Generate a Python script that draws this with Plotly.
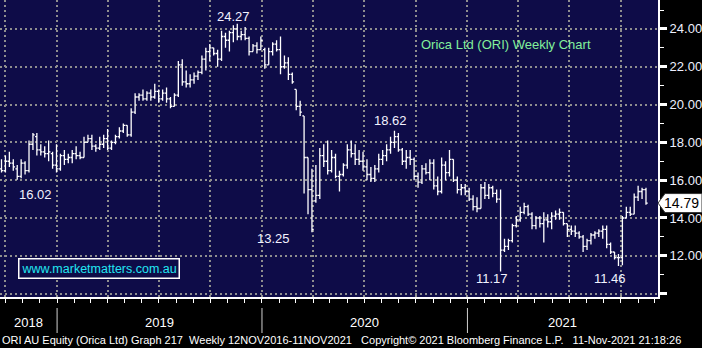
import pandas as pd
import plotly.graph_objects as go

# ---------------- data (weekly OHLC) ----------------
open_ = [16.6, 16.5, 17.0, 16.9, 16.6, 16.2, 16.9, 16.5, 17.9, 18.3,
         17.6, 17.5, 17.4, 17.4, 16.8, 16.6, 17.3, 17.1, 17.2, 17.4,
         17.3, 17.2, 18.0, 18.2, 17.8, 17.7, 17.9, 18.2, 17.7, 18.0,
         18.3, 18.6, 18.9, 18.4, 19.6, 20.4, 20.5, 20.3, 20.6, 20.4,
         20.7, 20.3, 20.6, 20.3, 19.9, 20.5, 22.1, 21.2, 21.1, 21.3,
         21.5, 21.7, 22.4, 22.8, 23.0, 22.7, 22.4, 23.6, 23.4, 23.8,
         24.0, 23.6, 23.7, 23.5, 22.8, 23.1, 22.9, 22.9, 22.1, 22.8,
         23.2, 22.9, 22.0, 22.2, 21.6, 20.8, 19.9, 19.4, 17.2, 15.5,
         14.9, 15.2, 17.3, 17.0, 16.5, 17.2, 16.2, 16.3, 16.8, 17.6,
         17.4, 17.1, 17.0, 16.7, 16.3, 16.1, 16.6, 17.1, 17.3, 17.6,
         18.0, 18.3, 17.6, 17.0, 17.2, 17.1, 16.2, 15.9, 16.6, 16.4,
         16.9, 15.7, 15.4, 16.8, 16.4, 17.1, 16.0, 15.5, 15.6, 15.4,
         15.0, 14.6, 14.5, 15.6, 15.2, 15.6, 15.3, 15.0, 12.3, 12.5,
         12.8, 13.6, 13.9, 14.3, 14.6, 14.2, 13.6, 14.0, 13.7, 13.9,
         13.8, 14.1, 14.2, 14.3, 13.7, 13.4, 13.3, 13.2, 13.0, 12.5,
         12.8, 13.1, 13.2, 13.3, 13.4, 12.6, 12.2, 11.9, 11.9, 14.0,
         14.3, 14.2, 15.1, 15.4, 15.5]
high_ = [17.1, 17.3, 17.5, 17.1, 16.8, 17.1, 17.0, 18.1, 18.5, 18.5,
         17.9, 17.8, 18.1, 17.5, 17.9, 17.4, 17.6, 17.4, 17.6, 17.8,
         17.5, 18.3, 18.4, 18.4, 17.9, 18.3, 18.4, 18.7, 18.1, 18.4,
         18.8, 19.0, 18.9, 19.8, 20.6, 20.6, 20.8, 20.7, 20.8, 21.1,
         20.8, 20.8, 20.9, 20.4, 20.6, 22.3, 22.4, 21.8, 21.6, 21.7,
         21.8, 22.6, 23.0, 23.2, 23.0, 22.9, 23.9, 23.8, 23.9, 24.2,
         24.27, 23.9, 24.1, 23.6, 23.2, 23.3, 23.6, 23.0, 23.0, 23.3,
         23.4, 23.6, 22.6, 22.5, 21.7, 20.8, 20.2, 19.4, 17.2, 16.6,
         16.8, 17.7, 17.9, 18.1, 17.6, 17.4, 16.5, 16.9, 17.9, 18.1,
         17.9, 17.6, 17.5, 17.1, 16.7, 16.8, 17.4, 17.6, 17.9, 18.3,
         18.62, 18.5, 17.7, 17.6, 17.6, 17.2, 16.4, 16.8, 16.9, 17.1,
         17.1, 16.2, 17.2, 17.0, 17.6, 17.1, 16.2, 15.8, 15.8, 15.6,
         15.2, 15.1, 15.8, 15.9, 15.8, 15.7, 15.5, 15.5, 12.9, 12.9,
         13.7, 14.1, 14.6, 14.8, 14.7, 14.3, 14.1, 14.1, 14.3, 14.2,
         14.3, 14.4, 14.5, 14.3, 13.7, 13.6, 13.6, 13.3, 13.1, 12.9,
         13.2, 13.3, 13.4, 13.6, 13.6, 12.7, 12.2, 12.1, 14.1, 14.6,
         14.6, 15.3, 15.7, 15.6, 15.6]
low_ = [16.4, 16.4, 16.7, 16.5, 16.02, 16.1, 16.3, 16.4, 17.6, 17.3,
        17.3, 17.2, 17.0, 16.6, 16.4, 16.5, 16.8, 16.9, 16.9, 17.1,
        17.1, 17.2, 18.0, 17.6, 17.5, 17.6, 17.7, 17.6, 17.6, 17.9,
        18.2, 18.5, 18.3, 18.3, 19.5, 20.2, 20.2, 20.2, 20.2, 20.3,
        20.1, 20.2, 20.1, 19.8, 19.9, 20.4, 21.0, 20.9, 20.9, 21.1,
        21.3, 21.6, 21.8, 22.3, 22.6, 22.0, 22.3, 23.0, 22.8, 23.3,
        23.4, 23.4, 23.4, 22.6, 22.8, 22.7, 22.9, 21.9, 22.1, 22.6,
        22.8, 21.6, 21.9, 21.3, 21.1, 19.7, 19.4, 15.3, 14.2, 13.25,
        14.8, 15.0, 16.7, 16.3, 16.4, 16.1, 15.4, 16.2, 16.6, 17.2,
        16.8, 16.8, 16.5, 16.0, 15.9, 15.9, 16.4, 16.8, 17.0, 17.4,
        17.7, 17.5, 16.8, 16.6, 16.8, 16.0, 15.6, 15.8, 16.3, 16.0,
        15.5, 15.2, 15.3, 16.0, 16.2, 15.9, 15.3, 15.2, 15.2, 14.9,
        14.4, 14.3, 14.5, 15.0, 15.0, 15.1, 14.8, 11.17, 12.2, 12.3,
        12.7, 13.5, 13.8, 14.2, 14.1, 13.4, 13.4, 13.5, 12.7, 13.5,
        13.4, 13.9, 13.9, 13.6, 13.0, 13.1, 13.0, 12.9, 12.2, 12.3,
        12.6, 12.9, 13.0, 12.9, 12.4, 12.1, 11.8, 11.46, 11.5, 14.0,
        14.1, 14.2, 14.9, 15.0, 14.7]
close_ = [16.5, 17.0, 16.9, 16.7, 16.2, 16.9, 16.5, 17.9, 18.4, 17.6,
          17.5, 17.4, 17.5, 16.8, 16.6, 17.3, 17.1, 17.2, 17.4, 17.3,
          17.2, 18.0, 18.2, 17.8, 17.7, 17.9, 18.2, 17.7, 18.0, 18.3,
          18.6, 18.9, 18.4, 19.6, 20.4, 20.5, 20.3, 20.6, 20.4, 20.7,
          20.3, 20.6, 20.3, 19.9, 20.5, 22.1, 21.2, 21.1, 21.3, 21.5,
          21.7, 22.4, 22.8, 23.0, 22.7, 22.4, 23.6, 23.4, 23.8, 24.0,
          23.6, 23.7, 23.5, 22.8, 23.1, 22.9, 23.4, 22.1, 22.8, 23.2,
          22.9, 22.0, 22.2, 21.6, 21.2, 19.9, 19.6, 17.2, 15.5, 13.4,
          15.2, 17.3, 17.0, 16.5, 17.2, 16.2, 16.3, 16.8, 17.6, 17.4,
          17.1, 17.0, 16.7, 16.3, 16.1, 16.6, 17.1, 17.3, 17.6, 18.0,
          18.3, 17.6, 17.0, 17.2, 17.1, 16.2, 15.9, 16.6, 16.4, 16.9,
          15.7, 15.4, 16.8, 16.4, 17.1, 16.0, 15.5, 15.6, 15.4, 15.0,
          14.6, 14.5, 15.6, 15.2, 15.6, 15.3, 15.0, 12.3, 12.5, 12.8,
          13.6, 13.9, 14.3, 14.6, 14.2, 13.6, 14.0, 13.7, 13.9, 13.8,
          14.1, 14.2, 14.3, 13.7, 13.4, 13.3, 13.2, 13.0, 12.5, 12.8,
          13.1, 13.2, 13.3, 13.4, 12.6, 12.2, 11.9, 11.9, 14.0, 14.3,
          14.2, 15.1, 15.4, 15.5, 14.79]

first_week = "2018-09-24"
dates = pd.date_range(first_week, periods=len(close_), freq="7D")

y_ticks = [10, 12, 14, 16, 18, 20, 22, 24]
y_labels = ["" if v == 10 else f"{v:.2f}" for v in y_ticks]
years = [2018, 2019, 2020, 2021]
price_labels = ["24.27", "18.62", "16.02", "13.25", "11.17", "11.46"]
title_text = "Orica Ltd (ORI) Weekly Chart"
site_text = "www.marketmatters.com.au"
footer_text = ("ORI AU Equity (Orica Ltd) Graph 217  Weekly 12NOV2016-11NOV2021   "
               "Copyright\u00a9 2021 Bloomberg Finance L.P.   11-Nov-2021 21:18:26")
last_price = close_[-1]

# ---------------- layout constants ----------------
W, H = 702, 348
PL, PR, PT, PB = 0, 44, 0, 51
plot_w = W - PL - PR
plot_h = H - PT - PB
x_start = pd.Timestamp("2018-09-21 08:00")
x_end = pd.Timestamp("2021-12-06 10:00")
y_lo, y_hi = 9.82, 25.53
NAVY = "#0e0c48"
GRID = "#8e8e8e"
FONT = "Liberation Sans, Arial, sans-serif"


def px_x(px):
    return px / plot_w


def px_y(py):
    return (plot_h - py) / plot_h


fig = go.Figure()
fig.add_trace(go.Ohlc(
    x=dates, open=open_, high=high_, low=low_, close=close_,
    increasing=dict(line=dict(color="white", width=1.3)),
    decreasing=dict(line=dict(color="white", width=1.3)),
    tickwidth=0.45, showlegend=False, hoverinfo="skip",
))

annotations = []
# price labels near extremes (pixel positions)
label_pos = [(233, 17), (390, 120), (35, 194), (273, 238), (492, 278), (610, 278)]
for txt, (lx, ly) in zip(price_labels, label_pos):
    annotations.append(dict(text=txt, xref="paper", yref="paper", x=px_x(lx), y=px_y(ly),
                            showarrow=False, font=dict(family=FONT, size=13, color="#f2f2ff"),
                            xanchor="center", yanchor="middle"))

annotations.append(dict(text=title_text, xref="paper", yref="paper", x=px_x(506), y=px_y(45),
                        showarrow=False, font=dict(family=FONT, size=13, color="#82f09c"),
                        xanchor="center", yanchor="middle"))

annotations.append(dict(text=site_text, xref="paper", yref="paper", x=px_x(99), y=px_y(268),
                        showarrow=False, font=dict(family=FONT, size=12.5, color="#22e6f2"),
                        xanchor="center", yanchor="middle", bordercolor="white",
                        borderwidth=1.5, borderpad=2, bgcolor=NAVY))

# year labels centred on the visible part of each year
year_bounds = [max(x_start, pd.Timestamp(f"{y}-01-01")) for y in years]
year_ends = [min(x_end, pd.Timestamp(f"{y + 1}-01-01")) for y in years]
for y, a, b in zip(years, year_bounds, year_ends):
    mid = a + (b - a) / 2
    annotations.append(dict(text=str(y), xref="x", yref="paper", x=mid, y=px_y(322),
                            showarrow=False, font=dict(family=FONT, size=13, color="white"),
                            xanchor="center", yanchor="middle"))

annotations.append(dict(text=footer_text, xref="paper", yref="paper", x=0, y=px_y(340),
                        showarrow=False,
                        font=dict(family=FONT, size=11, color="white"),
                        xanchor="left", yanchor="middle"))

# last price tag
tag_y = px_y(29 + (24 - last_price) * 18.9)
annotations.append(dict(text=f"{last_price:.2f}", xref="paper", yref="y", x=px_x(682), y=last_price,
                        showarrow=False, font=dict(family=FONT, size=14, color="black"),
                        xanchor="center", yanchor="middle"))

shapes = []
for y in years[1:]:
    shapes.append(dict(type="line", xref="x", yref="paper",
                       x0=pd.Timestamp(f"{y}-01-01"), x1=pd.Timestamp(f"{y}-01-01"),
                       y0=px_y(308), y1=px_y(333), line=dict(color="#d0d0d0", width=1)))

# pointer-shaped box for the last price
x0 = 1.0
x1 = px_x(665)
x2 = px_x(702)
yc = tag_y
hh = 9.5 / plot_h
shapes.append(dict(type="path", xref="paper", yref="paper",
                   path=f"M {x0} {yc} L {x1} {yc + hh} L {x2} {yc + hh} L {x2} {yc - hh} L {x1} {yc - hh} Z",
                   fillcolor="white", line=dict(color="#333333", width=1), layer="above"))

fig.update_layout(
    width=W, height=H,
    margin=dict(l=PL, r=PR, t=PT, b=PB, pad=0),
    paper_bgcolor="black", plot_bgcolor=NAVY,
    annotations=annotations, shapes=shapes,
    xaxis=dict(
        type="date", range=[x_start, x_end],
        rangeslider=dict(visible=False),
        tick0="2018-10-01", dtick="M3", showticklabels=False,
        ticks="outside", ticklen=4, tickcolor="white", tickwidth=1,
        showgrid=True, gridcolor=GRID, gridwidth=2, griddash="2px,3px",
        minor=dict(dtick="M1", tick0="2018-10-01", ticks="outside", ticklen=4,
                   tickcolor="white", tickwidth=1, showgrid=False),
        showline=True, linecolor="white", linewidth=2, zeroline=False,
    ),
    yaxis=dict(
        side="right", range=[y_lo, y_hi],
        tickmode="array", tickvals=y_ticks, ticktext=y_labels,
        ticks="outside", ticklen=7, tickwidth=3, tickcolor="white",
        tickfont=dict(family=FONT, size=13, color="#eef0ff"),
        showgrid=True, gridcolor=GRID, gridwidth=2, griddash="2px,3px",
        minor=dict(dtick=1, tick0=11, ticks="outside", ticklen=4, tickcolor="white",
                   tickwidth=1, showgrid=False),
        showline=True, linecolor="white", linewidth=2, zeroline=False,
    ),
)

fig.write_html("out.html")
